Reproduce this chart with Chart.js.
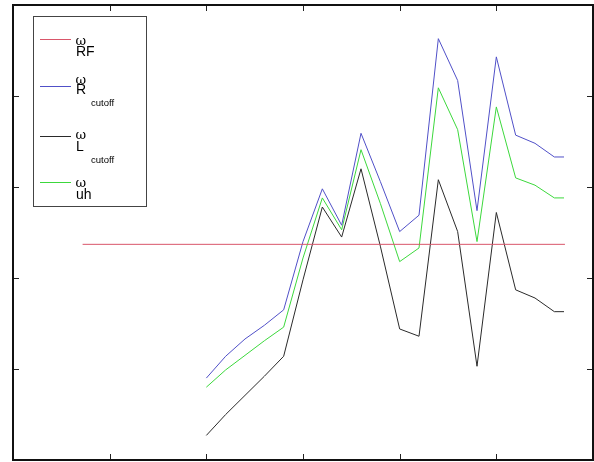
<!DOCTYPE html>
<html>
<head>
<meta charset="utf-8">
<script src="https://cdn.jsdelivr.net/npm/chart.js@4/dist/chart.umd.min.js"></script>
<style>
html,body{margin:0;padding:0;background:#fff;}
#c{display:block;}
</style>
</head>
<body>
<canvas id="c" width="594" height="462"></canvas>
<script>
// ---- data ----
const xValues = [2.0,2.2,2.4,2.6,2.8,3.0,3.2,3.4,3.6,3.8,4.0,4.2,4.4,4.6,4.8,5.0,5.2,5.4,5.6,5.7];
const omegaRcutoff = [0.90,1.14,1.33,1.48,1.65,2.40,2.98,2.58,3.59,3.06,2.51,2.69,4.63,4.17,2.74,4.43,3.57,3.48,3.33,3.33];
const omegaUH      = [0.80,0.99,1.15,1.31,1.46,2.22,2.88,2.53,3.41,2.82,2.18,2.33,4.09,3.63,2.40,3.88,3.10,3.02,2.88,2.88];
const omegaLcutoff = [0.27,0.50,0.71,0.92,1.14,1.98,2.78,2.45,3.20,2.35,1.44,1.36,3.08,2.51,1.03,2.72,1.87,1.78,1.63,1.63];
const rfX = [0.72, 5.71];
const rfY = [2.37, 2.37];
const xTicks = [1,2,3,4,5];
const yTicks = [1,2,3,4];
const legendNames = [
  {main:'RF', sub:''},
  {main:'R', sub:'cutoff'},
  {main:'L', sub:'cutoff'},
  {main:'uh', sub:''}
];

function pts(xs, ys){ return xs.map((x,i)=>({x:x,y:ys[i]})); }

const colors = {
  rf: '#d9566a',
  r: '#5050c8',
  l: '#2a2a2a',
  uh: '#3cd83c'
};

const framePlugin = {
  id:'frame',
  afterDatasetsDraw(chart){
    const ctx = chart.ctx, a = chart.chartArea;
    const xs = chart.scales.x, ys = chart.scales.y;
    ctx.save();
    // ticks (inward, all four sides)
    ctx.strokeStyle = '#222';
    ctx.lineWidth = 1;
    const tl = 6;
    xTicks.forEach(v=>{
      const px = Math.round(xs.getPixelForValue(v))+0.5;
      ctx.beginPath();
      ctx.moveTo(px, a.bottom); ctx.lineTo(px, a.bottom - tl);
      ctx.moveTo(px, a.top); ctx.lineTo(px, a.top + tl);
      ctx.stroke();
    });
    yTicks.forEach(v=>{
      const py = Math.round(ys.getPixelForValue(v))+0.5;
      ctx.beginPath();
      ctx.moveTo(a.left, py); ctx.lineTo(a.left + tl, py);
      ctx.moveTo(a.right, py); ctx.lineTo(a.right - tl, py);
      ctx.stroke();
    });
    // frame
    ctx.strokeStyle = '#111';
    ctx.lineWidth = 2;
    ctx.strokeRect(a.left, a.top, a.right - a.left, a.bottom - a.top);

    // legend
    const bx = 33.5, by = 16.5, bw = 113, bh = 190;
    ctx.fillStyle = '#fff';
    ctx.fillRect(bx, by, bw, bh);
    ctx.strokeStyle = '#444';
    ctx.lineWidth = 1;
    ctx.strokeRect(bx, by, bw, bh);
    const rows = [
      {y:39.5, c:colors.rf, n:legendNames[0], wy:45,   my:56},
      {y:86.5, c:colors.r,  n:legendNames[1], wy:83.5, my:94,  sy:105.5},
      {y:136.5,c:colors.l,  n:legendNames[2], wy:139,  my:150.5, sy:163},
      {y:182.5,c:colors.uh, n:legendNames[3], wy:186.5,my:198.5}
    ];
    rows.forEach(r=>{
      ctx.strokeStyle = r.c;
      ctx.lineWidth = 1;
      ctx.beginPath();
      ctx.moveTo(40, r.y); ctx.lineTo(71, r.y);
      ctx.stroke();
      ctx.fillStyle = '#000';
      ctx.textBaseline = 'alphabetic';
      ctx.font = '13px "DejaVu Serif", serif';
      ctx.fillText('\u03c9', 75.5, r.wy);
      ctx.font = '14px "Liberation Sans", Arial, sans-serif';
      ctx.fillText(r.n.main, 76, r.my);
      if (r.n.sub){
        ctx.font = '9.5px "Liberation Sans", Arial, sans-serif';
        ctx.fillText(r.n.sub, 91, r.sy);
      }
    });
    ctx.restore();
  }
};

const ds = (label, data, color) => ({
  label, data, borderColor: color, backgroundColor: color,
  borderWidth: 1, pointRadius: 0, pointHoverRadius: 0, tension: 0, fill:false
});

new Chart(document.getElementById('c'), {
  type: 'line',
  data: {
    datasets: [
      ds('\u03c9RF', pts(rfX, rfY), colors.rf),
      ds('\u03c9Rcutoff', pts(xValues, omegaRcutoff), colors.r),
      ds('\u03c9Lcutoff', pts(xValues, omegaLcutoff), colors.l),
      ds('\u03c9uh', pts(xValues, omegaUH), colors.uh)
    ]
  },
  options: {
    responsive: false,
    animation: false,
    events: [],
    layout: { padding: { left: 13, top: 5, right: 1, bottom: 2 } },
    plugins: { legend: { display: false }, tooltip: { enabled: false } },
    scales: {
      x: { type: 'linear', min: 0, max: 6,
           ticks: { display: false }, grid: { display: false, drawTicks: false },
           border: { display: false },
           afterFit(s){ s.height = 0; } },
      y: { type: 'linear', min: 0, max: 5,
           ticks: { display: false }, grid: { display: false, drawTicks: false },
           border: { display: false },
           afterFit(s){ s.width = 0; } }
    }
  },
  plugins: [framePlugin]
});
</script>
</body>
</html>
